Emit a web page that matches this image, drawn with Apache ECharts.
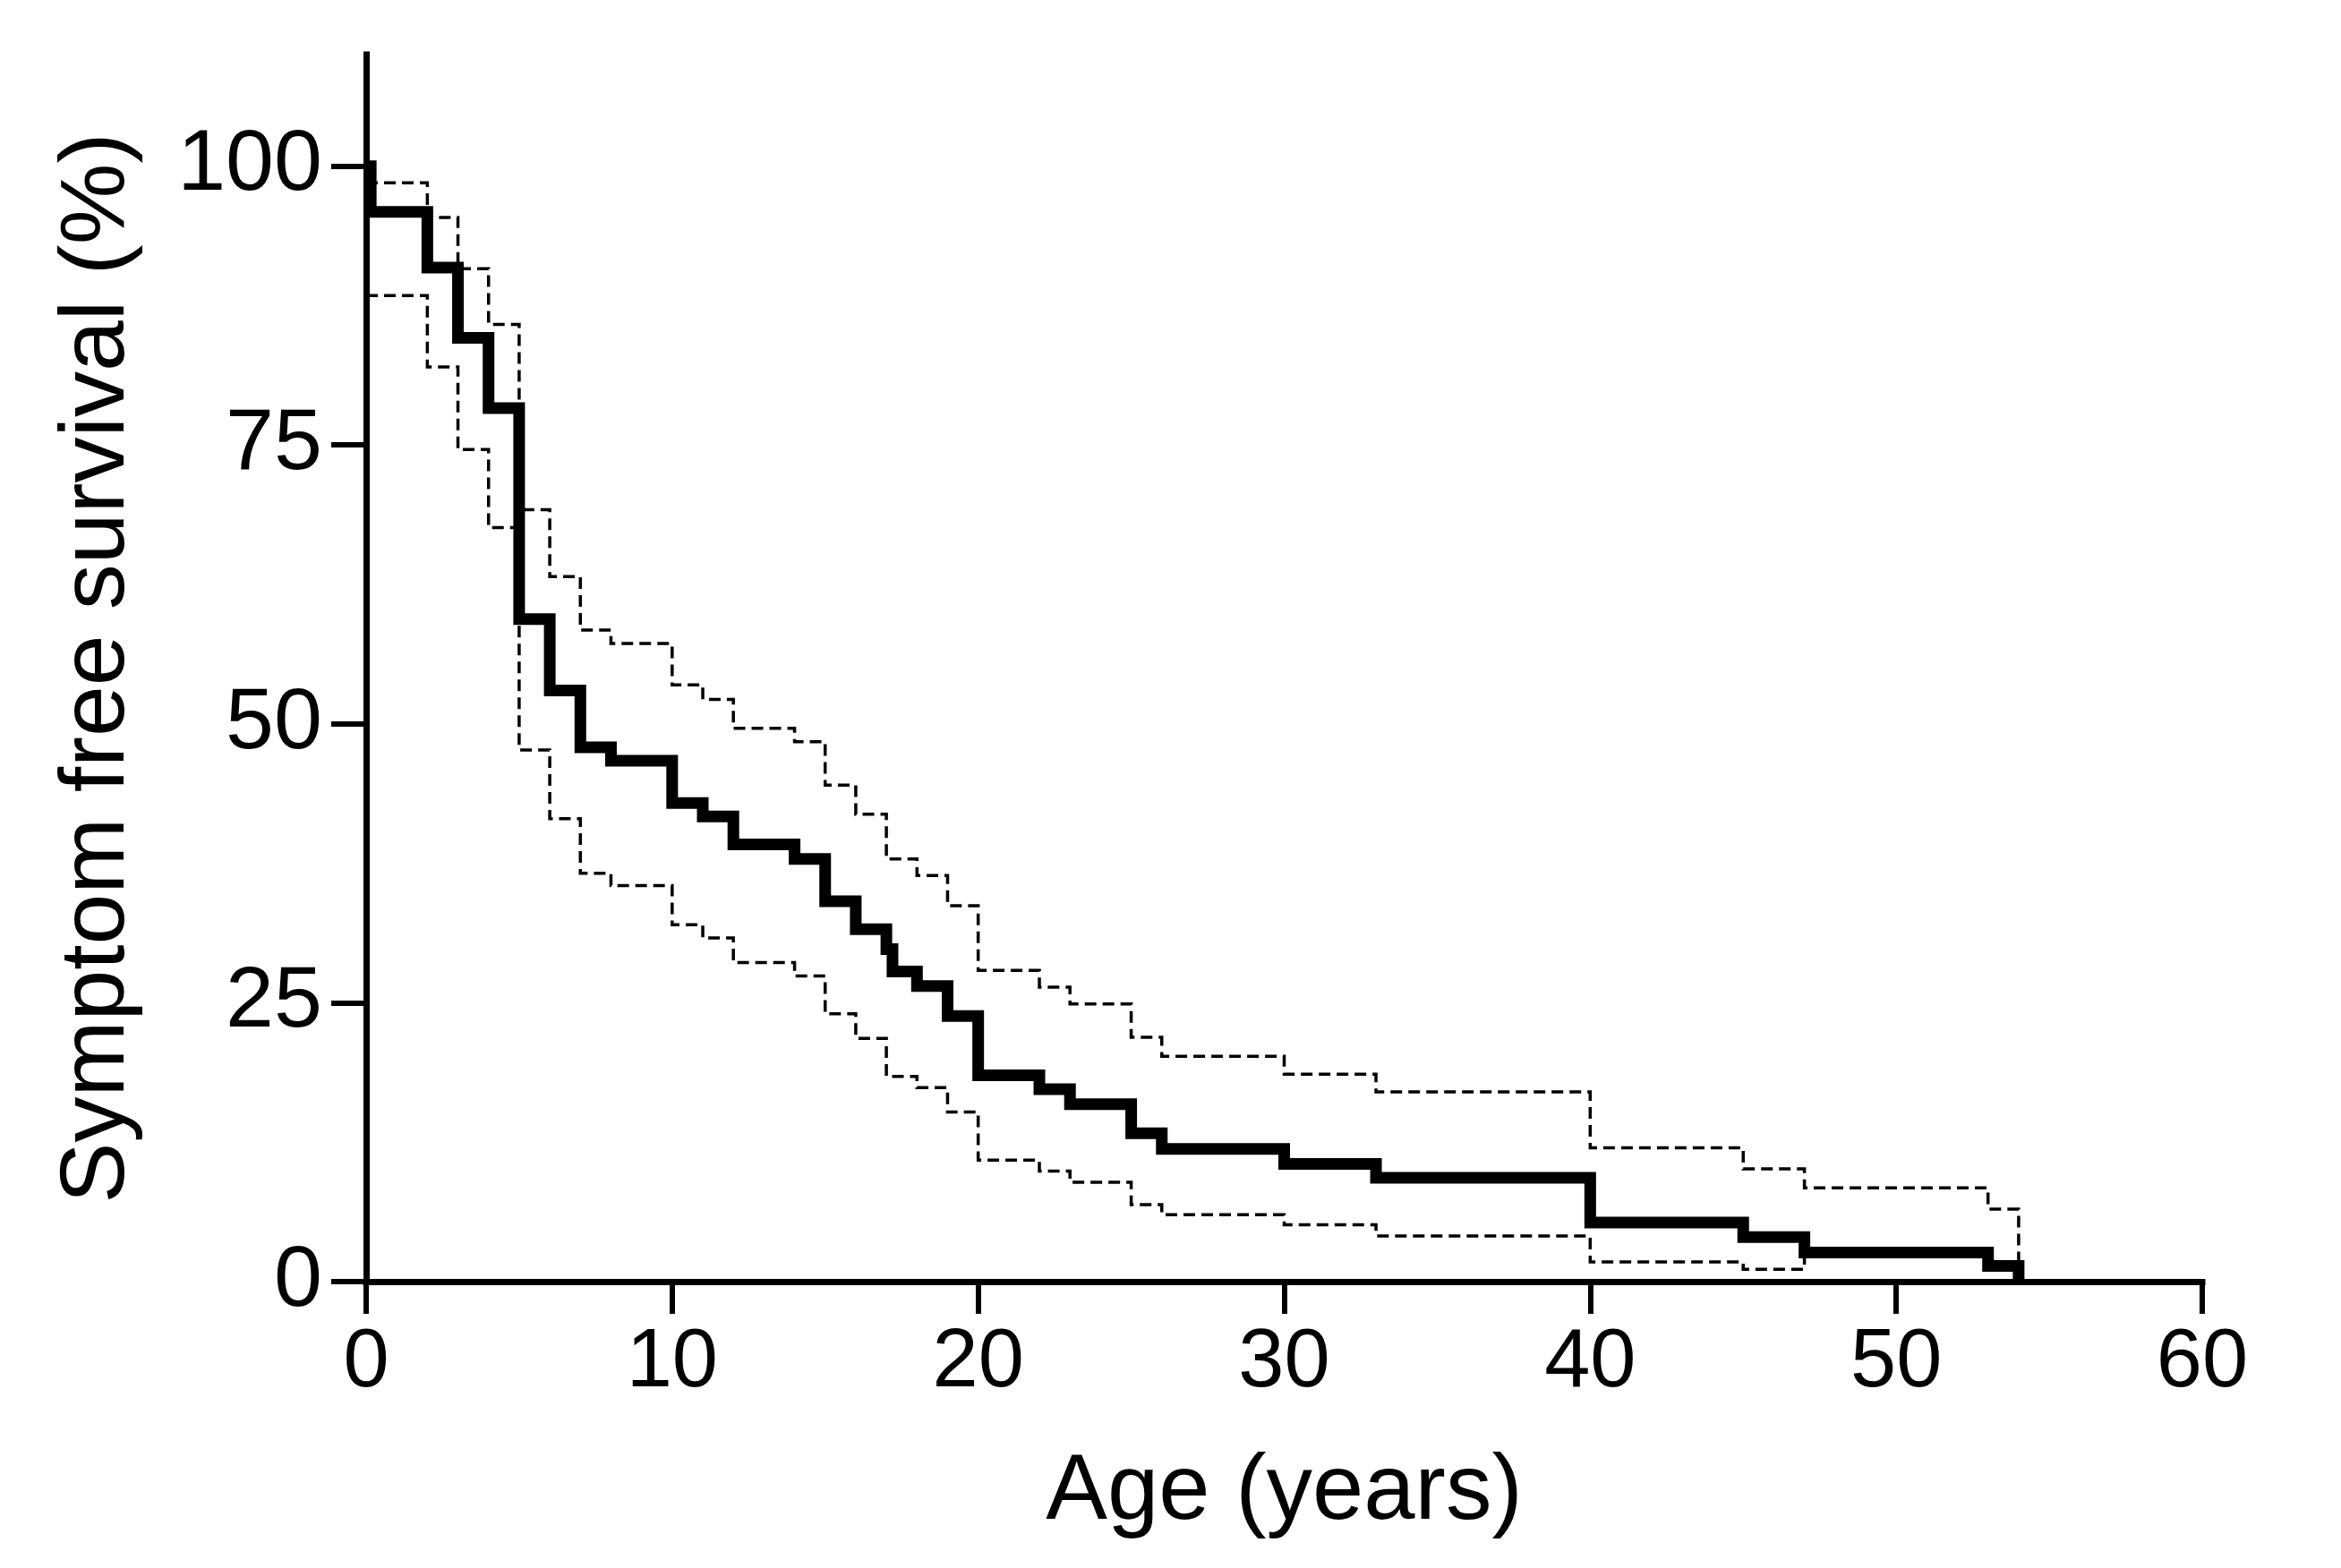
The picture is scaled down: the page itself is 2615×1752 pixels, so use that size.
<!DOCTYPE html>
<html>
<head>
<meta charset="utf-8">
<script src="https://cdn.jsdelivr.net/npm/echarts@6/dist/echarts.min.js"></script>
<style>
  html, body { margin: 0; padding: 0; background: #ffffff; }
  #chart { width: 2615px; height: 1752px; }
</style>
</head>
<body>
<div id="chart"></div>
<script>
// Kaplan-Meier estimate (step times in years, survival in %)
const mainTime     = [0, 0.15, 2, 3, 4, 5, 6, 7, 8, 10, 11, 12, 14, 15, 16, 17, 17.2, 18, 19, 20, 22, 23, 25, 26, 30, 33, 40, 45, 47, 53, 54];
const mainSurvival = [100, 95.9, 90.9, 84.6, 78.3, 59.4, 53.0, 47.9, 46.7, 42.9, 41.7, 39.2, 37.9, 34.1, 31.6, 29.8, 27.8, 26.5, 23.8, 18.5, 17.25, 15.9, 13.3, 11.9, 10.55, 9.3, 5.3, 4.0, 2.6, 1.4, 0];

// Upper 95% confidence band
const upperTime     = [0, 2, 3, 4, 5, 6, 7, 8, 10, 11, 12, 14, 15, 16, 17, 18, 19, 20, 22, 23, 25, 26, 30, 33, 40, 45, 47, 53, 54];
const upperSurvival = [98.5, 95.4, 90.8, 85.8, 69.2, 63.2, 58.4, 57.2, 53.5, 52.2, 49.6, 48.4, 44.5, 41.9, 37.9, 36.4, 33.7, 27.9, 26.4, 24.9, 21.9, 20.2, 18.6, 17.0, 12.0, 10.1, 8.4, 6.5, 0];

// Lower 95% confidence band
const lowerTime     = [0, 2, 3, 4, 5, 6, 7, 8, 10, 11, 12, 14, 15, 16, 17, 18, 19, 20, 22, 23, 25, 26, 30, 33, 40, 45, 47];
const lowerSurvival = [88.4, 82.0, 74.6, 67.6, 47.65, 41.5, 36.6, 35.5, 32.0, 30.8, 28.6, 27.4, 24.0, 21.8, 18.4, 17.4, 15.2, 10.9, 9.9, 8.9, 6.9, 6.0, 5.1, 4.1, 1.76, 1.1, 2.6];

// Axis ticks
const xTicks = [0, 10, 20, 30, 40, 50, 60];
const yTicks = [0, 25, 50, 75, 100];

const xTitle = 'Age (years)';
const yTitle = 'Symptom free survival (%)';

const toPairs = (t, s) => t.map((v, i) => [v, s[i]]);

const FONT = '"Liberation Sans", Arial, "DejaVu Sans", sans-serif';

const chart = echarts.init(document.getElementById('chart'), null, { renderer: 'canvas', devicePixelRatio: 1 });

const dashedStyle = { color: '#000', width: 3.5, type: [13, 7], join: 'miter', cap: 'butt' };

chart.setOption({
  backgroundColor: '#ffffff',
  animation: false,
  grid: { left: 409, right: 155, top: 61, bottom: 320, containLabel: false },
  xAxis: {
    type: 'value',
    min: xTicks[0],
    max: xTicks[xTicks.length - 1],
    interval: 10,
    name: xTitle,
    nameLocation: 'middle',
    nameGap: 185,
    nameTextStyle: { fontFamily: FONT, fontSize: 103, color: '#000' },
    axisLine: { show: true, onZero: false, lineStyle: { color: '#000', width: 7, cap: 'square' } },
    axisTick: { show: true, length: 36, lineStyle: { color: '#000', width: 6 } },
    axisLabel: { show: true, margin: 46, fontFamily: FONT, fontSize: 92, color: '#000', customValues: xTicks },
    splitLine: { show: false }
  },
  yAxis: {
    type: 'value',
    min: 0,
    max: 110,
    interval: 25,
    name: yTitle,
    nameLocation: 'middle',
    nameGap: 248,
    nameTextStyle: { fontFamily: FONT, fontSize: 102, color: '#000' },
    axisLine: { show: true, onZero: false, lineStyle: { color: '#000', width: 7, cap: 'square' } },
    axisTick: { show: true, length: 39, lineStyle: { color: '#000', width: 6 }, customValues: yTicks },
    axisLabel: { show: true, margin: 49, fontFamily: FONT, fontSize: 97, color: '#000', customValues: yTicks },
    splitLine: { show: false }
  },
  series: [
    {
      name: 'Upper CI', type: 'line', step: 'end', clip: false,
      showSymbol: false, symbol: 'none',
      data: toPairs(upperTime, upperSurvival),
      lineStyle: dashedStyle, z: 2
    },
    {
      name: 'Lower CI', type: 'line', step: 'end', clip: false,
      showSymbol: false, symbol: 'none',
      data: toPairs(lowerTime, lowerSurvival),
      lineStyle: dashedStyle, z: 2
    },
    {
      name: 'Survival', type: 'line', step: 'end', clip: false,
      showSymbol: false, symbol: 'none',
      data: toPairs(mainTime, mainSurvival),
      lineStyle: { color: '#000', width: 13, join: 'miter', cap: 'butt' }, z: 3
    }
  ]
});
</script>
</body>
</html>
